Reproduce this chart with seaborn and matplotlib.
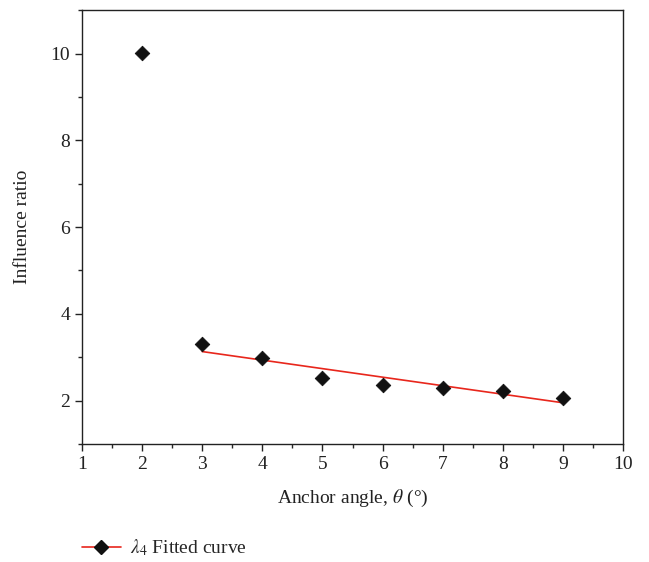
import matplotlib
matplotlib.use("Agg")
import matplotlib.pyplot as plt
import seaborn as sns
import pandas as pd
from matplotlib.lines import Line2D
from matplotlib.ticker import MultipleLocator

# Data
angles = [2, 3, 4, 5, 6, 7, 8, 9]
ratios = [10.02, 3.31, 2.99, 2.53, 2.37, 2.30, 2.23, 2.07]
fit_angles = [3, 9]
fit_values = [3.13, 1.95]
x_ticks = [1, 2, 3, 4, 5, 6, 7, 8, 9, 10]
y_ticks = [2, 4, 6, 8, 10]

sns.set_theme(style="ticks")
plt.rcParams['font.family'] = ['Liberation Serif', 'DejaVu Serif']
plt.rcParams['mathtext.fontset'] = 'stix'

fig = plt.figure(figsize=(6.49, 5.62), dpi=100)
ax = fig.add_axes([0.1263, 0.21, 0.8337, 0.772])

df_pts = pd.DataFrame({"angle": angles, "ratio": ratios})
df_fit = pd.DataFrame({"angle": fit_angles, "ratio": fit_values})

sns.lineplot(data=df_fit, x="angle", y="ratio", ax=ax, color="#e8261c", linewidth=1.2, zorder=2)
sns.scatterplot(data=df_pts, x="angle", y="ratio", ax=ax, marker="D", s=55,
                color="#111111", edgecolor="#111111", zorder=3)

ax.set_xlim(1, 10)
ax.set_ylim(1, 11)
ax.set_xticks(x_ticks)
ax.set_yticks(y_ticks)
ax.xaxis.set_minor_locator(MultipleLocator(0.5))
ax.yaxis.set_minor_locator(MultipleLocator(1))
ax.tick_params(axis='both', which='major', direction='out', length=5, width=1,
               labelsize=14, colors='#222222', top=False, right=False)
ax.tick_params(axis='both', which='minor', direction='out', length=3, width=1,
               top=False, right=False)
for sp in ax.spines.values():
    sp.set_linewidth(1.0)
    sp.set_color('#222222')

ax.set_xlabel(r"Anchor angle, $\theta$ (°)", fontsize=14, color='#222222', labelpad=11)
ax.set_ylabel("Influence ratio", fontsize=14, color='#222222', labelpad=14)

handle = Line2D([], [], color="#e8261c", linewidth=1.2, marker="D", markersize=7,
                markerfacecolor="#111111", markeredgecolor="#111111")
fig.legend([handle], [r"$\lambda_4$ Fitted curve"], loc="center left",
           bbox_to_anchor=(0.105, 0.025), frameon=False, fontsize=14,
           handlelength=2.0, handletextpad=0.5, borderpad=0.2)

fig.savefig("out.png", dpi=100)
